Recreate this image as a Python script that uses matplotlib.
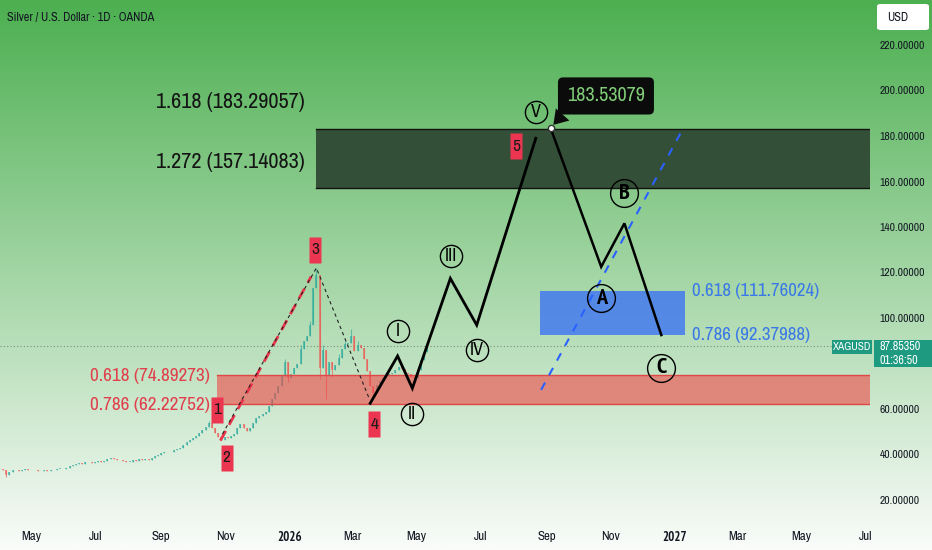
import os
import matplotlib
matplotlib.use('Agg')
import matplotlib.pyplot as plt
import matplotlib.dates as mdates
from matplotlib import font_manager as fm
from matplotlib.patches import Rectangle, FancyBboxPatch
from matplotlib.path import Path
import numpy as np
from datetime import datetime

# ---------------- fonts ----------------
def pick_font(bold=False):
    def is_bold(fn):
        b = os.path.basename(fn).lower()
        return ('bold' in b) and ('semibold' not in b) and ('extrabold' not in b)
    def plain(fn):
        b = os.path.basename(fn).lower()
        return not any(k in b for k in ('italic', 'oblique', 'light', 'thin', 'medium', 'black',
                                        'semibold', 'extrabold', 'mono', 'serif'))
    tl = fm.fontManager.ttflist
    for f in tl:
        if 'narrow' in f.name.lower() and plain(f.fname) and is_bold(f.fname) == bold:
            return fm.FontProperties(fname=f.fname)
    for f in tl:
        b = os.path.basename(f.fname).lower()
        if ('condensed' in b or 'condensed' in f.name.lower()) and plain(f.fname) \
                and 'semicondensed' not in b and is_bold(f.fname) == bold:
            return fm.FontProperties(fname=f.fname)
    for f in tl:
        b = os.path.basename(f.fname).lower()
        if f.name == 'Roboto' and plain(f.fname) and is_bold(f.fname) == bold \
                and ('regular' in b or 'bold' in b):
            return fm.FontProperties(fname=f.fname)
    return fm.FontProperties(family=['Roboto', 'DejaVu Sans'], weight='bold' if bold else 'normal')

FP = pick_font(False)
FPB = pick_font(True)

def fp(size, bold=False):
    p = (FPB if bold else FP).copy()
    p.set_size(size)
    return p

# ---------------- data ----------------
candle_start = '2025-04-04'
candle_step_days = 3
closes = [33.0, 31.0, 32.2, 33.0, 33.4, 32.9, 33.3, 33.6, 33.1, 33.4,
          33.0, 32.6, 32.9, 33.2, 32.8, 33.0, 33.4, 33.6, 33.8, 33.5,
          34.1, 34.8, 35.5, 36.0, 36.3, 36.0, 36.5, 36.9, 36.4, 36.8,
          37.2, 36.6, 37.3, 38.0, 38.6, 38.1, 37.5, 37.8, 37.0, 36.7,
          36.9, 37.4, 37.2, 38.0, 37.6, 37.9, 37.4, 38.3, 39.2, 40.0,
          40.6, 40.9, 41.3, 41.0, 41.8, 42.4, 43.0, 44.0, 45.3, 46.5,
          47.2, 48.3, 49.4, 50.8, 52.3, 53.8, 51.8, 49.3, 47.8, 46.5,
          47.6, 47.2, 48.0, 49.2, 51.5, 53.5, 51.8, 50.3, 51.5, 54.0,
          56.0, 57.0, 57.8, 58.5, 61.5, 64.5, 67.0, 70.0, 74.5, 80.5,
          73.5, 75.5, 78.0, 80.0, 86.5, 90.0, 92.0, 97.0, 113.0, 119.0,
          78.0, 86.0, 75.0, 80.5, 77.0, 79.5, 82.5, 86.5, 88.5, 89.0,
          92.0, 85.5, 88.0, 87.0, 82.0, 76.5, 70.0, 67.0, 70.5, 72.5,
          73.5, 74.5, 75.5, 76.0, 77.0, 78.5, 77.5, 76.0, 75.5, 74.0,
          73.5, 77.0, 81.5, 85.0, 87.9]
first_open = 33.5
wick_highs = {65: 54.6, 89: 82.0, 94: 88.0, 97: 98.5, 99: 122.0, 101: 88.0, 106: 84.0,
              108: 90.0, 110: 95.0, 112: 90.0}
wick_lows = {1: 30.0, 90: 72.0, 100: 73.0, 102: 64.5, 104: 74.0, 117: 64.8}
last_price = 87.85350

# Fibonacci zones
fib_ext_levels = [183.29057, 157.14083]
fib_ext_labels = ['1.618 (183.29057)', '1.272 (157.14083)']
fib_ext_start = '2026-01-26'
fib_red_levels = [74.89273, 62.22752]
fib_red_labels = ['0.618 (74.89273)', '0.786 (62.22752)']
fib_red_start = '2025-10-24'
fib_blue_levels = [111.76024, 92.37988]
fib_blue_labels = ['0.618 (111.76024)', '0.786 (92.37988)']
fib_blue_span = ['2026-08-26', '2027-01-10']

# Elliott waves (projection)
impulse_dates = ['2026-03-18', '2026-04-13', '2026-04-27', '2026-06-02', '2026-06-27', '2026-08-22']
impulse_prices = [62.5, 83.3, 69.1, 117.4, 96.9, 179.0]
corr_dates = ['2026-09-05', '2026-10-23', '2026-11-14', '2026-12-19']
corr_prices = [183.53079, 122.5, 141.6, 92.5]
peak_label = '183.53079'

circle_labels = ['I', 'II', 'III', 'IV', 'V', 'A', 'B', 'C']
circle_dates = ['2026-04-13', '2026-04-27', '2026-06-03', '2026-06-27', '2026-08-22',
                '2026-10-23', '2026-11-14', '2026-12-19']
circle_prices = [94.3, 57.8, 127.3, 85.9, 190.7, 108.7, 154.8, 78.2]

num_labels = ['1', '2', '3', '4', '5']
num_dates = ['2025-10-24', '2025-11-02', '2026-01-25', '2026-03-22', '2026-08-03']
num_prices = [59.6, 38.5, 129.9, 53.4, 175.6]

red_dash_dates = ['2025-10-27', '2026-01-21']
red_dash_prices = [46.1, 118.2]
blk_dash_dates = ['2025-10-29', '2026-01-26', '2026-03-17']
blk_dash_prices = [49.0, 122.0, 64.7]
blue_dash_dates = ['2026-08-27', '2027-01-07']
blue_dash_prices = [68.4, 181.9]

y_ticks = [20, 40, 60, 100, 120, 140, 160, 180, 200, 220]
x_tick_dates = ['2025-05-01', '2025-07-01', '2025-09-01', '2025-11-01', '2026-01-01', '2026-03-01',
                '2026-05-01', '2026-07-01', '2026-09-01', '2026-11-01', '2027-01-01', '2027-03-01',
                '2027-05-01', '2027-07-01']
x_tick_labels = ['May', 'Jul', 'Sep', 'Nov', '2026', 'Mar', 'May', 'Jul', 'Sep', 'Nov', '2027',
                 'Mar', 'May', 'Jul']

# ---------------- helpers ----------------
def dn(s):
    return mdates.date2num(datetime.strptime(s, '%Y-%m-%d'))

W, H = 932, 550
fig = plt.figure(figsize=(W / 100, H / 100), dpi=100)

# gradient background
bg = fig.add_axes([0, 0, 1, 1])
bg.set_axis_off()
top = np.array([76, 175, 80]) / 255
bot = np.array([250, 252, 250]) / 255
t = np.linspace(0, 1, 256)[:, None]
grad = top[None, :] * (1 - t) + bot[None, :] * t
bg.imshow(grad[:, None, :], aspect='auto', extent=[0, 1, 0, 1], origin='upper')
bg.set_xlim(0, 1); bg.set_ylim(0, 1)

# main axes: px 0..870 horizontally, 0..520 vertically
ax = fig.add_axes([0, 30 / H, 870 / W, 520 / H])
ax.set_facecolor('none')
for s in ax.spines.values():
    s.set_visible(False)

base = dn('2026-01-01')
ax.set_xlim(base - 274.9, base + 549.8)
ax.set_ylim(220 - 475 / 2.275, 220 + 45 / 2.275)
xmax = base + 549.8

# candles
t0 = dn(candle_start)
opens = [first_open] + closes[:-1]
xs = np.array([t0 + i * candle_step_days for i in range(len(closes))])
for i, (o, c) in enumerate(zip(opens, closes)):
    up = c >= o
    col = '#26a69a' if up else '#ef5350'
    hi = wick_highs.get(i, max(o, c))
    lo = wick_lows.get(i, min(o, c))
    ax.vlines(xs[i], lo, hi, color=col, lw=0.8, alpha=0.6, zorder=2)
    ax.bar(xs[i], max(abs(c - o), 0.3), bottom=min(o, c), width=1.9, color=col,
           alpha=0.6, lw=0, zorder=2)

# current price line
ax.axhline(last_price, color='#555555', lw=0.8, ls=(0, (1, 2)), alpha=0.6, zorder=1)

# fib extension zone (dark)
x0 = dn(fib_ext_start)
ax.add_patch(Rectangle((x0, fib_ext_levels[1]), xmax - x0, fib_ext_levels[0] - fib_ext_levels[1],
                       fc='#344f37', ec='none', zorder=3))
for lv in fib_ext_levels:
    ax.plot([x0, xmax], [lv, lv], color='#111111', lw=1.0, zorder=3)
for lv, lab in zip(fib_ext_levels, fib_ext_labels):
    ax.text(base - 56.9, lv + 11.5, lab, fontproperties=fp(16), color='#141414',
            ha='center', va='center', zorder=6)

# red retracement zone
x0 = dn(fib_red_start)
ax.add_patch(Rectangle((x0, fib_red_levels[1]), xmax - x0, fib_red_levels[0] - fib_red_levels[1],
                       fc='#f04848', ec='none', alpha=0.6, zorder=3))
for lv in fib_red_levels:
    ax.plot([x0, xmax], [lv, lv], color='#e04848', lw=1.0, zorder=3)
for lv, lab in zip(fib_red_levels, fib_red_labels):
    ax.text(x0 - 7, lv - 0.5, lab, fontproperties=fp(13.8), color='#e0404c',
            ha='right', va='center', zorder=6)

# blue zone
bx0, bx1 = dn(fib_blue_span[0]), dn(fib_blue_span[1])
ax.add_patch(Rectangle((bx0, fib_blue_levels[1]), bx1 - bx0, fib_blue_levels[0] - fib_blue_levels[1],
                       fc='#2962ff', ec='none', alpha=0.68, zorder=3))
for lv, lab in zip(fib_blue_levels, fib_blue_labels):
    ax.text(bx1 + 7.5, lv, lab, fontproperties=fp(13.6), color='#3a78e6',
            ha='left', va='center', zorder=6)

# dashed lines
ax.plot([dn(d) for d in blue_dash_dates], blue_dash_prices, color='#2962ff', lw=1.5,
        ls=(0, (4, 4)), zorder=4)
ax.plot([dn(d) for d in red_dash_dates], red_dash_prices, color='#e8334a', lw=2.0,
        ls=(0, (4, 2.5)), zorder=4)
ax.plot([dn(d) for d in blk_dash_dates], blk_dash_prices, color='#222222', lw=0.8,
        ls=(0, (3, 3)), zorder=4)

# wave lines
ax.plot([dn(d) for d in impulse_dates], impulse_prices, color='black', lw=2.0, zorder=5,
        solid_joinstyle='miter')
ax.plot([dn(d) for d in corr_dates], corr_prices, color='black', lw=1.8, zorder=5,
        solid_joinstyle='miter')

# wave circles
for lab, d, p in zip(circle_labels, circle_dates, circle_prices):
    big = lab in ('A', 'B', 'C')
    ax.plot(dn(d), p, marker='o', ms=20 if big else 16, mfc='none', mec='black', mew=1.0, zorder=6)
    ax.text(dn(d), p, lab, fontproperties=fp(16 if big else 13, bold=big), color='black',
            ha='center', va='center', zorder=7)

# number labels: tall red tags
tag = Path([(-0.25, -0.5), (0.25, -0.5), (0.25, 0.5), (-0.25, 0.5), (-0.25, -0.5)],
           [Path.MOVETO, Path.LINETO, Path.LINETO, Path.LINETO, Path.CLOSEPOLY])
for lab, d, p in zip(num_labels, num_dates, num_prices):
    ax.plot(dn(d), p, marker=tag, ms=18.5, mfc='#ec3550', mec='none', zorder=6)
    ax.text(dn(d), p, lab, fontproperties=fp(12.5), color='#1a1a1a', ha='center', va='center',
            zorder=7)

# peak callout
pk_x, pk_y = dn(corr_dates[0]), corr_prices[0]
ax.annotate(peak_label, xy=(pk_x, pk_y), xytext=(pk_x + 52.5, 197.6), textcoords='data',
            fontproperties=fp(14.5), color='#80cc78', ha='center', va='center', zorder=8,
            bbox=dict(boxstyle='round,pad=0.45,rounding_size=0.25', fc='#0b0b0b', ec='none'),
            arrowprops=dict(arrowstyle='wedge,tail_width=0.9,shrink_factor=0.5', fc='#0b0b0b',
                            ec='none', relpos=(0.08, 0.15), shrinkA=0, shrinkB=3))
ax.plot(pk_x, pk_y, marker='o', ms=4.5, mfc='white', mec='#333333', mew=1, zorder=9)

# axes ticks
ax.yaxis.tick_right()
ax.set_yticks(y_ticks)
ax.set_yticklabels(['%.5f' % v for v in y_ticks])
for lbl in ax.get_yticklabels():
    lbl.set_fontproperties(fp(8.3))
    lbl.set_color('#131722')
ax.tick_params(axis='y', length=0, pad=7.0)

ax.set_xticks([dn(d) for d in x_tick_dates])
ax.set_xticklabels(x_tick_labels)
for lbl in ax.get_xticklabels():
    bold = lbl.get_text().isdigit()
    lbl.set_fontproperties(fp(9.3, bold=bold))
    lbl.set_color('#131722')
ax.tick_params(axis='x', length=0, pad=8)

# figure-level decorations
def fx(x):
    return x / W

def fy(y):
    return 1 - y / H

fig.text(fx(7), fy(18), 'Silver / U.S. Dollar · 1D · OANDA', fontproperties=fp(8.8),
         color='#131722', ha='left', va='center')

# USD box
fig.patches.append(FancyBboxPatch((fx(877), fy(30)), fx(52), 26 / H,
                                  boxstyle='round,pad=0,rounding_size=0.004',
                                  transform=fig.transFigure, fc='white', ec='none', zorder=5))
fig.text(fx(887), fy(17.5), 'USD', fontproperties=fp(8.8), color='#131722', ha='left',
         va='center', zorder=6)

# symbol + price labels
fig.patches.append(Rectangle((fx(832), fy(354)), fx(40), 14 / H, transform=fig.transFigure,
                             fc='#1e9a80', ec='none', zorder=5))
fig.text(fx(852), fy(347), 'XAGUSD', fontproperties=fp(8), color='white', ha='center',
         va='center', zorder=6)
fig.patches.append(Rectangle((fx(874), fy(367)), fx(58), 27 / H, transform=fig.transFigure,
                             fc='#1e9a80', ec='none', zorder=5))
fig.text(fx(880), fy(347), '%.5f' % last_price, fontproperties=fp(8.7), color='white', ha='left',
         va='center', zorder=6)
fig.text(fx(880), fy(360), '01:36:50', fontproperties=fp(8.7), color='white', ha='left',
         va='center', zorder=6)

fig.savefig('out.png', dpi=100)
